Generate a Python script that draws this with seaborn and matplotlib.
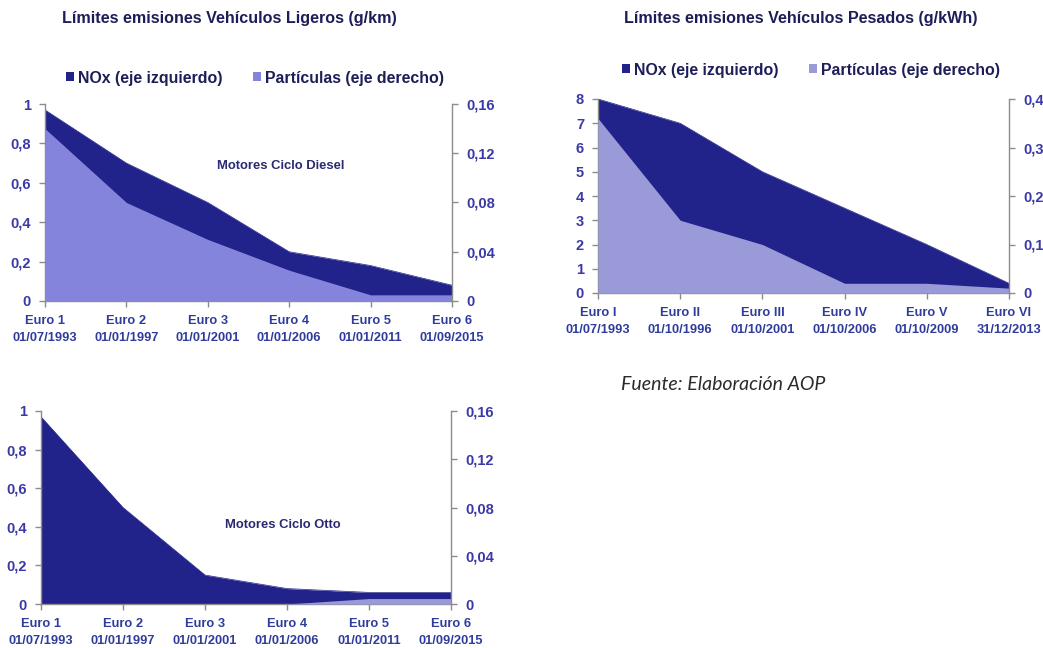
import numpy as np
import pandas as pd
import matplotlib
matplotlib.use("Agg")
import matplotlib.pyplot as plt
from matplotlib.patches import Patch
import seaborn as sns

# ---------------- data ----------------
cats_light = ["Euro 1", "Euro 2", "Euro 3", "Euro 4", "Euro 5", "Euro 6"]
dates_light = ["01/07/1993", "01/01/1997", "01/01/2001", "01/01/2006", "01/01/2011", "01/09/2015"]
cats_heavy = ["Euro I", "Euro II", "Euro III", "Euro IV", "Euro V", "Euro VI"]
dates_heavy = ["01/07/1993", "01/10/1996", "01/10/2001", "01/10/2006", "01/10/2009", "31/12/2013"]

nox_diesel = [0.97, 0.70, 0.50, 0.25, 0.18, 0.08]
pm_diesel = [0.14, 0.08, 0.05, 0.025, 0.005, 0.005]

nox_heavy = [8.0, 7.0, 5.0, 3.5, 2.0, 0.4]
pm_heavy = [0.36, 0.15, 0.10, 0.02, 0.02, 0.01]

nox_otto = [0.97, 0.50, 0.15, 0.08, 0.06, 0.06]
pm_otto = [0.0, 0.0, 0.0, 0.0, 0.0045, 0.0045]

left_ticks_light = [0, 0.2, 0.4, 0.6, 0.8, 1.0]
right_ticks_light = [0, 0.04, 0.08, 0.12, 0.16]
left_ticks_heavy = [0, 1, 2, 3, 4, 5, 6, 7, 8]
right_ticks_heavy = [0, 0.1, 0.2, 0.3, 0.4]

# ---------------- style ----------------
sns.set_theme(style="white")
plt.rcParams["font.family"] = ["Liberation Sans", "DejaVu Sans"]

NOX_C = "#22238a"
PM1_C = "#8584dc"
PM2_C = "#9a9ad9"
TICK_C = "#3b39a8"
CAT_C = "#2f3c9c"
TITLE_C = "#1d1d58"
SPINE_C = "#8c8c8c"


def fmt(v):
    s = ("%g" % v).replace(".", ",")
    return s


def area_panel(fig, rect, cats, dates, nox, pm, lticks, rticks, pm_color, note=None, note_xy=None):
    ax = fig.add_axes(rect)
    df = pd.DataFrame({"x": np.arange(len(cats)), "nox": nox, "pm": pm})
    ax.fill_between(df["x"], 0, df["nox"], color=NOX_C, lw=0)
    sns.lineplot(data=df, x="x", y="nox", ax=ax, color=NOX_C, lw=0.5)
    ax.set_xlim(0, len(cats) - 1)
    ax.set_ylim(lticks[0], lticks[-1])
    ax.set_yticks(lticks)
    ax.set_yticklabels([fmt(v) for v in lticks], color=TICK_C, fontweight="bold", fontsize=10.5)
    ax.set_xticks(df["x"])
    ax.set_xticklabels([f"{c}\n{d}" for c, d in zip(cats, dates)], color=CAT_C,
                       fontweight="bold", fontsize=9.3, linespacing=1.55)
    ax.set_xlabel("")
    ax.set_ylabel("")

    ax2 = ax.twinx()
    ax2.fill_between(df["x"], 0, df["pm"], color=pm_color, lw=0)
    ax2.set_ylim(rticks[0], rticks[-1])
    ax2.set_yticks(rticks)
    ax2.set_yticklabels([fmt(v) for v in rticks], color=TICK_C, fontweight="bold", fontsize=10.5)
    ax2.set_xlim(0, len(cats) - 1)

    for a in (ax, ax2):
        a.spines["top"].set_visible(False)
        for s in ("left", "right", "bottom"):
            a.spines[s].set_color(SPINE_C)
            a.spines[s].set_linewidth(1.0)
        a.tick_params(axis="both", which="both", length=4, width=1, color=SPINE_C)
        a.grid(False)
    ax.tick_params(axis="y", left=True, pad=6)
    ax.tick_params(axis="x", bottom=True, pad=6)
    ax2.tick_params(axis="y", right=True, pad=6)
    ax2.spines["left"].set_visible(False)
    ax2.spines["bottom"].set_visible(False)
    ax.spines["right"].set_visible(False)
    if note:
        ax.text(note_xy[0], note_xy[1], note, transform=ax.transAxes, ha="center", va="center",
                color="#2a2a72", fontsize=9.4, fontweight="bold")
    return ax, ax2


fig = plt.figure(figsize=(10.43, 6.48), dpi=100)
fig.patch.set_facecolor("white")

W, H = 1043.0, 648.0


def rect(l, r, t, b):
    return [l / W, 1 - b / H, (r - l) / W, (b - t) / H]


LEG_KW = dict(ncol=2, loc="center", frameon=False, handlelength=0.5, handleheight=0.5,
              handletextpad=0.25, columnspacing=1.9, prop={"size": 11.4, "weight": "bold"},
              labelcolor=TITLE_C)

# Panel 1: light diesel
ax1, ax1b = area_panel(fig, rect(45, 452, 104, 301), cats_light, dates_light, nox_diesel, pm_diesel,
                       left_ticks_light, right_ticks_light, PM1_C,
                       note="Motores Ciclo Diesel", note_xy=(0.58, 0.685))
fig.text(229 / W, 1 - 19 / H, "Límites emisiones Vehículos Ligeros (g/km)", ha="center", va="center",
         color=TITLE_C, fontsize=11.6, fontweight="bold")
h1 = [Patch(facecolor=NOX_C, edgecolor="none"), Patch(facecolor=PM1_C, edgecolor="none")]
ax1.legend(h1, ["NOx (eje izquierdo)", "Partículas (eje derecho)"],
           bbox_to_anchor=((255 - 45) / 407, 1 + (104 - 78) / 197.0), **LEG_KW)

# Panel 2: heavy duty
ax3, ax3b = area_panel(fig, rect(598, 1009, 99, 293), cats_heavy, dates_heavy, nox_heavy, pm_heavy,
                       left_ticks_heavy, right_ticks_heavy, PM2_C)
fig.text(801 / W, 1 - 19 / H, "Límites emisiones Vehículos Pesados (g/kWh)", ha="center", va="center",
         color=TITLE_C, fontsize=11.6, fontweight="bold")
h2 = [Patch(facecolor=NOX_C, edgecolor="none"), Patch(facecolor=PM2_C, edgecolor="none")]
ax3.legend(h2, ["NOx (eje izquierdo)", "Partículas (eje derecho)"],
           bbox_to_anchor=((811 - 598) / 411, 1 + (99 - 70) / 194.0), **LEG_KW)

# Panel 3: light petrol
ax5, ax5b = area_panel(fig, rect(41, 451, 411, 604), cats_light, dates_light, nox_otto, pm_otto,
                       left_ticks_light, right_ticks_light, PM2_C,
                       note="Motores Ciclo Otto", note_xy=(0.59, 0.41))

fig.text(723 / W, 1 - 385 / H, "Fuente: Elaboración AOP", ha="center", va="center",
         color="#2b2b2b", fontsize=14, style="italic", family=["Lato", "DejaVu Sans"])

fig.savefig("out.png", dpi=100, facecolor="white")
